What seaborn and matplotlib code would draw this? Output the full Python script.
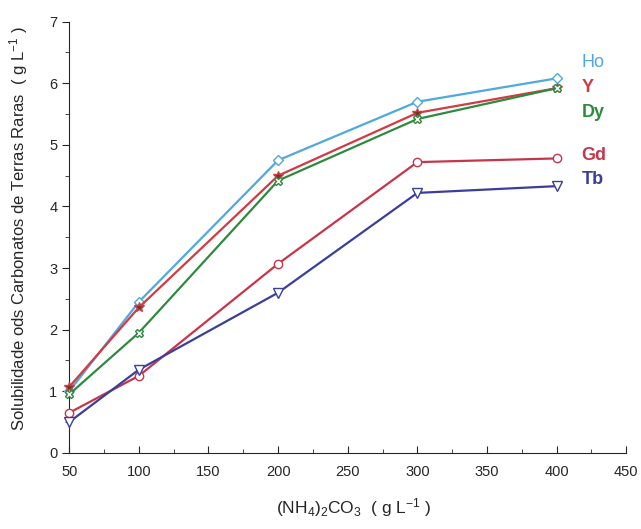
import matplotlib
matplotlib.use("Agg")
import matplotlib.pyplot as plt
import numpy as np
import pandas as pd
import seaborn as sns
from matplotlib.ticker import MultipleLocator

# (NH4)2CO3 concentration [g/L]
conc = [50, 100, 200, 300, 400]

# solubility of rare earth carbonates [g/L]
ho = [1.00, 2.45, 4.75, 5.70, 6.08]
y_ = [1.07, 2.36, 4.50, 5.52, 5.92]
dy = [0.95, 1.95, 4.42, 5.42, 5.92]
gd = [0.65, 1.25, 3.07, 4.72, 4.78]
tb = [0.50, 1.35, 2.60, 4.22, 4.33]

element_names = ["Ho", "Y", "Dy", "Gd", "Tb"]

sns.set_style("ticks")
plt.rcParams["font.family"] = ["Liberation Sans", "DejaVu Sans"]
plt.rcParams["mathtext.fontset"] = "custom"
plt.rcParams["mathtext.rm"] = "Liberation Sans"
plt.rcParams["mathtext.default"] = "regular"

fig = plt.figure(figsize=(6.41, 5.29), dpi=100)
ax = fig.add_axes([0.108, 0.144, 0.869, 0.815])

df = pd.DataFrame({"conc": conc, "Ho": ho, "Y": y_, "Dy": dy, "Gd": gd, "Tb": tb})

styles = {
    "Ho": dict(color="#4fa9dc", marker="D", mfc="white", ms=5.5),
    "Y": dict(color="#d23a44", marker="*", mfc="#6a3a2a", ms=7),
    "Dy": dict(color="#2e8b3e", marker="X", mfc="white", ms=6),
    "Gd": dict(color="#c8354a", marker="o", mfc="white", ms=6),
    "Tb": dict(color="#3b3f9a", marker="v", mfc="white", ms=6.5),
}

for name in element_names:
    st = styles[name]
    sns.lineplot(data=df, x="conc", y=name, ax=ax, color=st["color"], linewidth=1.6,
                 marker=st["marker"], markersize=st["ms"], markerfacecolor=st["mfc"],
                 markeredgecolor=st["color"], markeredgewidth=1.0, clip_on=False, zorder=3)

# labels at the right end of the curves
label_pos = {"Ho": 6.33, "Y": 5.93, "Dy": 5.53, "Gd": 4.82, "Tb": 4.43}
for name in element_names:
    ax.text(418, label_pos[name], name, color=styles[name]["color"], fontsize=13,
            fontweight="bold" if name != "Ho" else "normal", va="center", ha="left")

ax.set_xlim(50, 450)
ax.set_ylim(0, 7)
ax.xaxis.set_major_locator(MultipleLocator(50))
ax.xaxis.set_minor_locator(MultipleLocator(25))
ax.yaxis.set_major_locator(MultipleLocator(1))
ax.yaxis.set_minor_locator(MultipleLocator(0.5))
ax.tick_params(axis="x", which="both", direction="in", labelsize=10.5, pad=9)
ax.tick_params(axis="y", which="both", direction="out", labelsize=10.5)
ax.tick_params(which="major", length=5)
ax.tick_params(which="minor", length=3)
sns.despine(ax=ax)

ax.set_xlabel(r"(NH$_4$)$_2$CO$_3$  ( g L$^{-1}$ )", fontsize=12.5)
ax.set_ylabel(r"Solubilidade ods Carbonatos de Terras Raras  ( g L$^{-1}$ )", fontsize=12)
ax.xaxis.set_label_coords(0.51, -0.1)
ax.yaxis.set_label_coords(-0.07, 0.52)

fig.savefig("out.png", dpi=100)
